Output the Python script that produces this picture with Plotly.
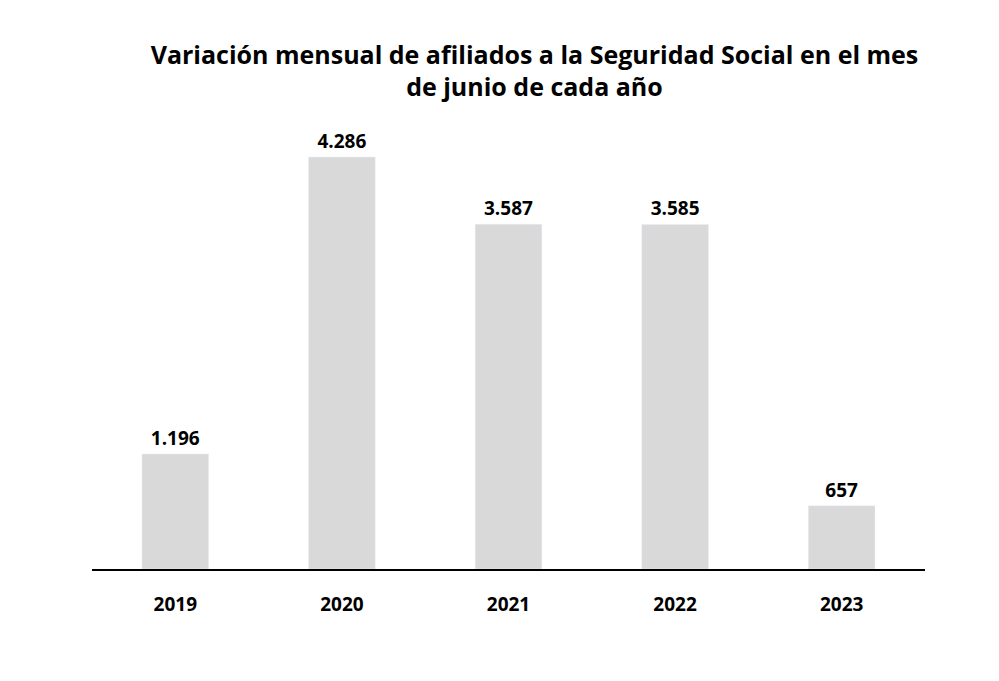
import plotly.graph_objects as go

anios = ["2019", "2020", "2021", "2022", "2023"]
afiliados = [1196, 4286, 3587, 3585, 657]

fig = go.Figure()
fig.add_bar(
    x=anios, y=afiliados,
    marker_color="#d9d9d9",
    texttemplate="<b>%{y:,}</b>", textposition="outside",
    textfont=dict(size=19, color="#000000", family="Open Sans"),
    cliponaxis=False,
)

fig.update_layout(
    width=999, height=681,
    separators=",.",
    plot_bgcolor="white", paper_bgcolor="white",
    margin=dict(l=84, r=82, t=92, b=120),
    bargap=0.6,
    showlegend=False,
    title=dict(
        text="<b>Variación mensual de afiliados a la Seguridad Social en el mes<br>de junio de cada año</b>",
        x=0.527, xanchor="center", y=0.918, yanchor="middle",
        font=dict(size=25, color="#000000", family="Open Sans"),
    ),
    font=dict(family="Open Sans", color="#000000"),
)
fig.update_yaxes(range=[0, 4880], visible=False)
fig.update_xaxes(
    showline=True, linecolor="#000000", linewidth=1.5,
    tickfont=dict(size=19, color="#000000", family="Open Sans"),
    ticklabelstandoff=17,
    tickvals=anios, ticktext=["<b>%s</b>" % a for a in anios],
)

fig.write_html("out.html")
